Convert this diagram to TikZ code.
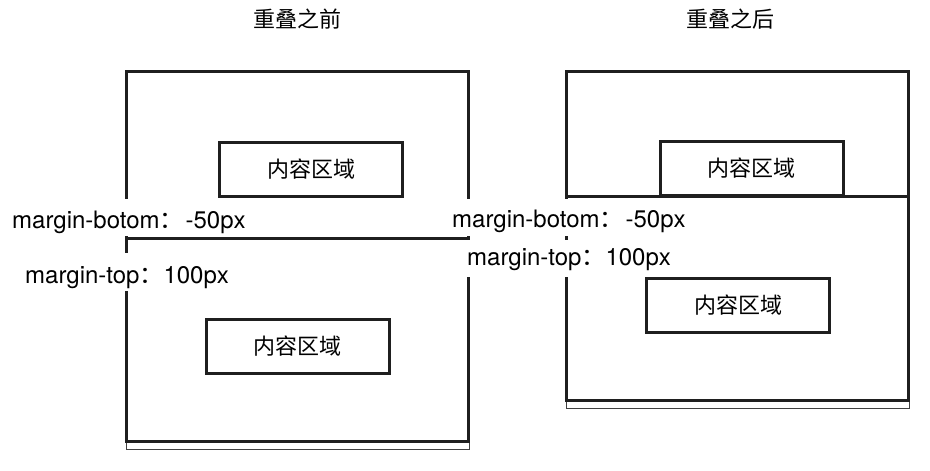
\documentclass[tikz,border=0pt]{standalone}
\usepackage{fontspec}
\setmainfont{TeX Gyre Heros}
\newfontfamily\cjk{Noto Sans CJK SC}
\tikzset{
  box/.style={draw=black!88, line width=3pt},
  thinbox/.style={draw=black!75, line width=1pt},
  inbox/.style={draw=black!88, line width=3pt, minimum width=183pt, minimum height=54pt, inner sep=0pt, font=\fontsize{22}{24}\cjk},
  title/.style={font=\fontsize{22}{24}\cjk, inner sep=0pt},
  lbl/.style={anchor=base west, inner sep=0pt, font=\fontsize{24}{26}\selectfont},
  bg/.style={fill=white}
}
\begin{document}
\begin{tikzpicture}[x=1pt,y=-1pt]
\useasboundingbox (0,0) rectangle (930,471);
% titles
\node[title] (t1) at (297,19) {重叠之前};
\node[title] (t2) at (730,19) {重叠之后};
% left diagram
\draw[thinbox] (126,441) rectangle (469,449);
\draw[box] (126,71) rectangle (468,238);
\draw[box] (126,238) rectangle (468,441);
\node[inbox] (li1) at (311,169.5) {内容区域};
\node[inbox] (li2) at (297.5,346.5) {内容区域};
% right diagram
\draw[thinbox] (566,400) rectangle (909,408);
\draw[box] (566,71) rectangle (908,196);
\draw[box] (566,196) rectangle (908,400);
\node[inbox] (ri1) at (751.5,168.5) {内容区域};
\node[inbox] (ri2) at (738,305.5) {内容区域};
% label backgrounds
\fill[bg] (4,199) rectangle (255,236);
\fill[bg] (18,253) rectangle (235,291);
\fill[bg] (440,199) rectangle (695,236);
\fill[bg] (455,240) rectangle (680,277);
% labels
\node[lbl] (l1) at (12,228) {margin-botom{\cjk ：}\hspace{2pt}-50px};
\node[lbl] (l2) at (25,283) {margin-top{\cjk ：}100px};
\node[lbl] (r1) at (452,227) {margin-botom{\cjk ：}\hspace{2pt}-50px};
\node[lbl] (r2) at (467,265) {margin-top{\cjk ：}100px};
\end{tikzpicture}
\end{document}
